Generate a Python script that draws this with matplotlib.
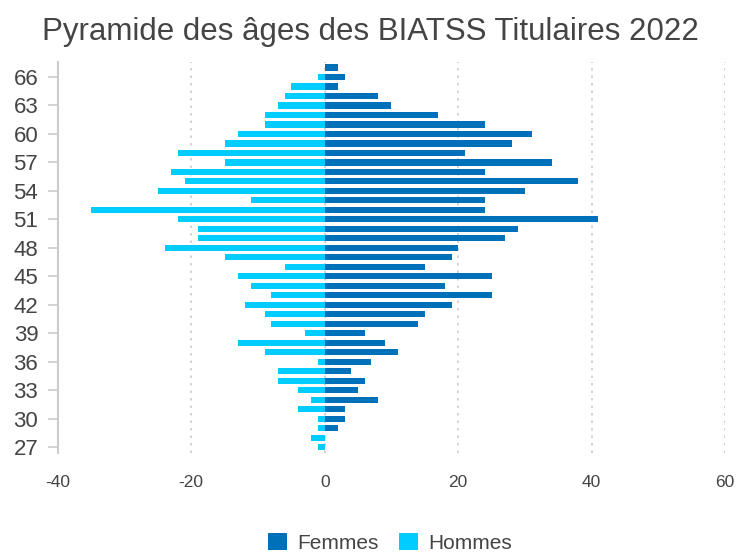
import matplotlib
matplotlib.use("Agg")
from matplotlib import pyplot as plt
import numpy as np

# Ages and counts (top = 67, bottom = 27)
ages = np.arange(27, 68)
femmes = [0, 0, 2, 3, 3, 8, 5, 6, 4, 7, 11, 9, 6, 14, 15, 19, 25, 18, 25, 15,
          19, 20, 27, 29, 41, 24, 24, 30, 38, 24, 34, 21, 28, 31, 24, 17, 10, 8,
          2, 3, 2]
hommes = [1, 2, 1, 1, 4, 2, 4, 7, 7, 1, 9, 13, 3, 8, 9, 12, 8, 11, 13, 6,
          15, 24, 19, 19, 22, 35, 11, 25, 21, 23, 15, 22, 15, 13, 9, 9, 7, 6,
          5, 1, 0]
yticks = list(range(27, 67, 3))
xticks = [-40, -20, 0, 20, 40, 60]

FEMMES_COLOR = "#0070B8"
HOMMES_COLOR = "#00CCFF"
TEXT = "#444444"

plt.rcParams["font.family"] = ["Liberation Sans", "DejaVu Sans"]

fig = plt.figure(figsize=(7.4, 5.57), dpi=100)
ax = fig.add_axes([0.078, 0.187, 0.902, 0.702])

ax.barh(ages, femmes, height=0.65, color=FEMMES_COLOR, label="Femmes", zorder=3)
ax.barh(ages, -np.array(hommes), height=0.65, color=HOMMES_COLOR, label="Hommes", zorder=3)

ax.set_xlim(-40, 60)
ax.set_ylim(26.4, 67.6)
ax.set_xticks(xticks)
ax.set_xticklabels([str(x) for x in xticks])
ax.set_yticks(yticks)

ax.grid(axis="x", color="#cccccc", linestyle=(0, (1.5, 3)), linewidth=1.2, zorder=0)
for side in ("top", "right", "bottom"):
    ax.spines[side].set_visible(False)
ax.spines["left"].set_color("#cccccc")
ax.spines["left"].set_linewidth(1.5)

ax.tick_params(axis="x", length=0, pad=16, labelsize=12.5, labelcolor=TEXT)
ax.tick_params(axis="y", length=7, width=1.2, color="#cccccc", pad=7, labelsize=16, labelcolor=TEXT)

fig.suptitle("Pyramide des âges des BIATSS Titulaires 2022", x=0.5, y=0.97,
             fontsize=22.5, color=TEXT)

fig.legend(loc="center", bbox_to_anchor=(0.527, 0.025), ncol=2, frameon=False,
           fontsize=15, labelcolor=TEXT, handlelength=0.9, handleheight=0.9,
           handletextpad=0.5, columnspacing=1.0)

fig.savefig("out.png", dpi=100, facecolor="white")
